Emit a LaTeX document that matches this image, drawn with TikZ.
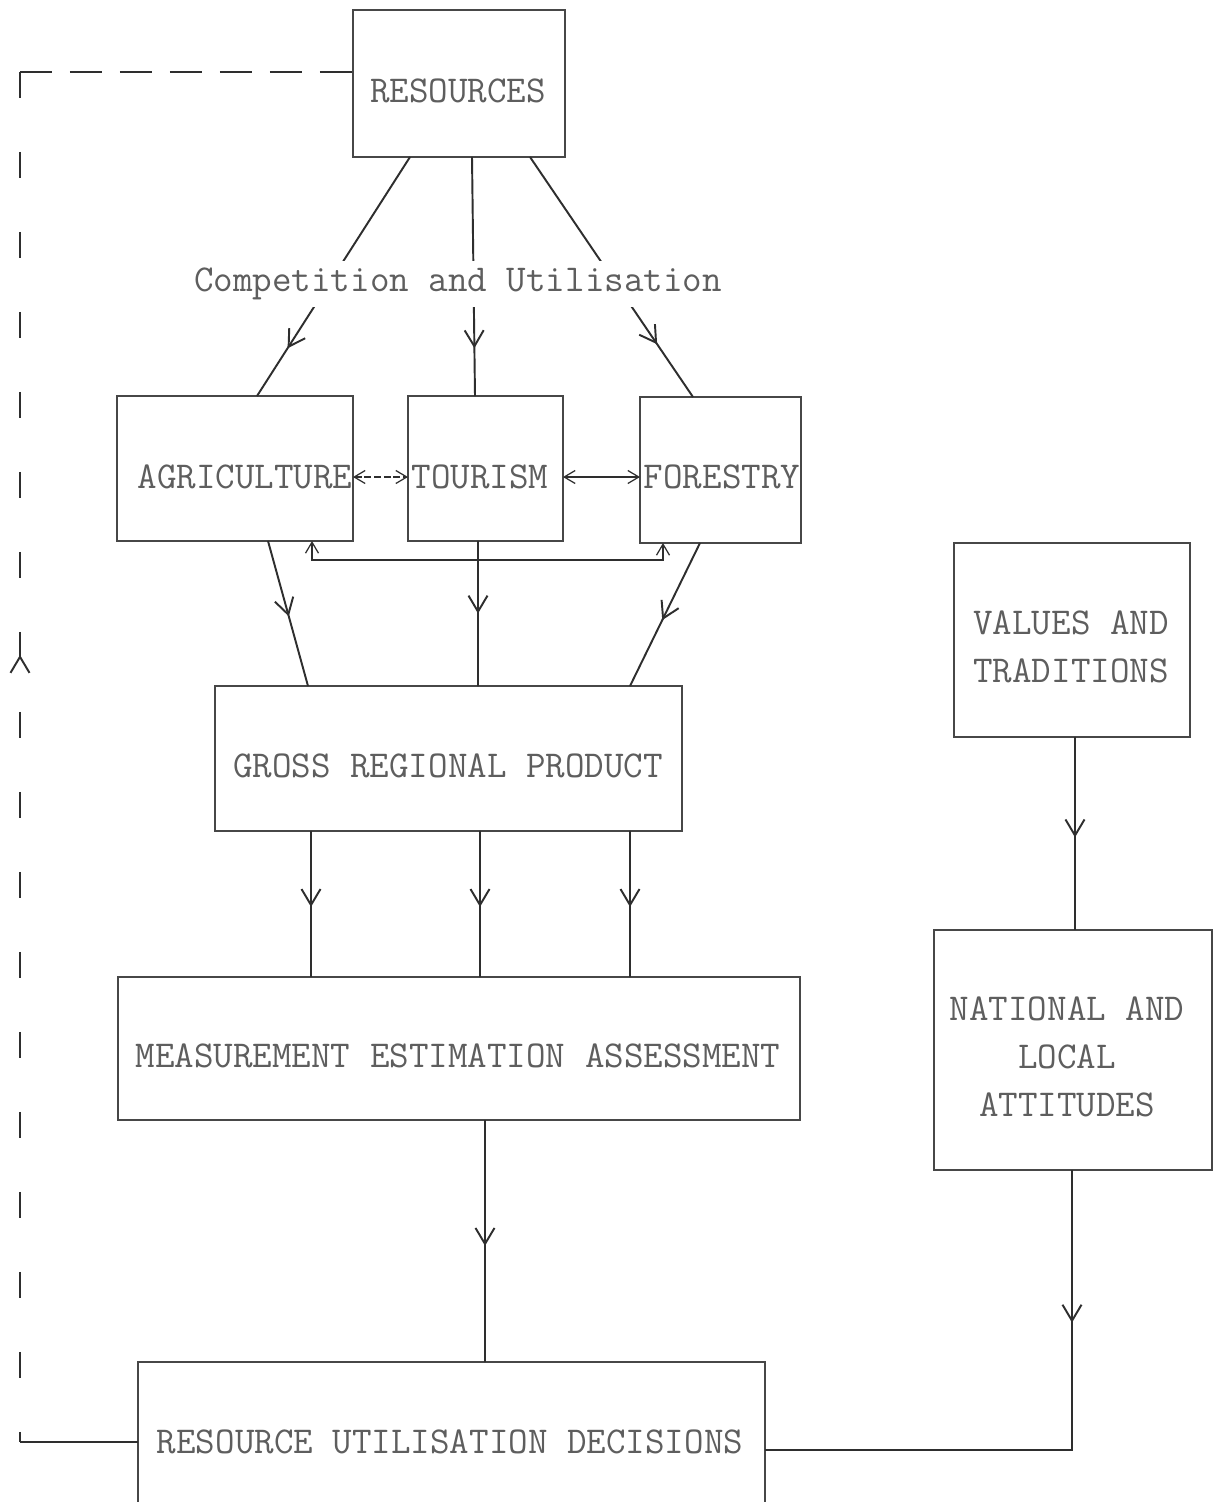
\documentclass[tikz,border=0pt]{standalone}
\usepackage{fontspec}
\usetikzlibrary{arrows.meta,decorations.markings,calc}
\definecolor{ink}{HTML}{2E2E2E}
\definecolor{boxink}{HTML}{474747}
\definecolor{txt}{HTML}{5E5E5E}
\tikzset{
  sb/.tip={Straight Barb[length=2.2mm,width=2.6mm]},
  box/.style 2 args={draw=boxink,line width=1pt,inner sep=0pt,outer sep=0pt,minimum width=#1,minimum height=#2},
  lbl/.style={text=txt,font=\ttfamily\fontsize{21.6}{27.3}\selectfont,inner sep=0pt,align=center},
  conn/.style={draw=ink,line width=1.1pt},
  midarrow/.style={postaction={decorate,decoration={markings,mark=at position #1 with {\arrow[line width=1.1pt]{Straight Barb[length=3.2mm,width=3.8mm]}}}}},
  midarrowrev/.style={postaction={decorate,decoration={markings,mark=at position #1 with {\arrowreversed[line width=1.1pt]{Straight Barb[length=3.2mm,width=3.8mm]}}}}},
}
\begin{document}
\begin{tikzpicture}[x=0.02cm,y=-0.02cm]
\fill[white] (0,0) rectangle (1220,1502);
\useasboundingbox (0,0) rectangle (1220,1502);

% boxes
\node[box={4.24cm}{2.94cm}] (res) at (459,83.5) {};
\node[box={4.72cm}{2.90cm}] (agr) at (235,468.5) {};
\node[box={3.10cm}{2.90cm}] (tou) at (485.5,468.5) {};
\node[box={3.22cm}{2.92cm}] (for) at (720.5,470) {};
\node[box={9.34cm}{2.90cm}] (grp) at (448.5,758.5) {};
\node[box={13.64cm}{2.86cm}] (mea) at (459,1048.5) {};
\node[box={12.54cm}{2.96cm}] (rud) at (451.5,1436) {};
\node[box={4.72cm}{3.88cm}] (val) at (1072,640) {};
\node[box={5.56cm}{4.80cm}] (nat) at (1073,1050) {};

% texts
\node[lbl] (resT) at (458,91) {RESOURCES};
\node[lbl] (agrT) at (245,477) {AGRICULTURE};
\node[lbl] (touT) at (480,477) {TOURISM};
\node[lbl] (forT) at (722,477) {FORESTRY};
\node[lbl] (grpT) at (448,766) {GROSS REGIONAL PRODUCT};
\node[lbl] (meaT) at (458,1056) {MEASUREMENT ESTIMATION ASSESSMENT};
\node[lbl] (rudT) at (450,1442) {RESOURCE UTILISATION DECISIONS};
\node[lbl] (valT) at (1071,647) {VALUES AND\\TRADITIONS};
\node[lbl] (natT) at (1067,1057) {NATIONAL AND\\LOCAL\\ATTITUDES};

% resources to sectors
\draw[conn,midarrow=0.8] ($(res.south)+(-49,0)$) -- ($(agr.north)+(22,0)$);
\draw[conn,midarrow=0.8] ($(res.south)+(13,0)$) -- ($(tou.north)+(-10.5,0)$);
\draw[conn,midarrow=0.78] ($(res.south)+(71,0)$) -- ($(for.north)+(-27.5,0)$);
\node[lbl,fill=white,inner xsep=3pt,minimum height=0.92cm] (comp) at (458,284) {Competition and Utilisation};

% interactions between sectors
\draw[draw=ink,line width=0.7pt,dash pattern=on 4pt off 1.5pt,sb-sb] (agr.east |- agrT) -- (tou.west |- agrT);
\draw[draw=ink,line width=0.7pt,sb-sb] (tou.east |- agrT) -- (for.west |- agrT);
\coordinate (bl) at (312,560);
\coordinate (br) at (663,560);
\draw[draw=ink,line width=0.7pt,sb-sb] (agr.south -| bl) -- (bl) -- (br) -- (for.south -| br);

% sectors to GRP
\draw[conn,midarrow=0.52] ($(agr.south)+(33,0)$) -- ($(grp.north)+(-140.5,0)$);
\draw[conn,midarrow=0.5] ($(tou.south)+(-7.5,0)$) -- ($(grp.north)+(29.5,0)$);
\draw[conn,midarrow=0.54] ($(for.south)+(-20.5,0)$) -- ($(grp.north)+(181.5,0)$);

% GRP to measurement
\draw[conn,midarrow=0.52] ($(grp.south)+(-137.5,0)$) -- ($(mea.north)+(-148,0)$);
\draw[conn,midarrow=0.52] ($(grp.south)+(31.5,0)$) -- ($(mea.north)+(21,0)$);
\draw[conn,midarrow=0.52] ($(grp.south)+(181.5,0)$) -- ($(mea.north)+(171,0)$);

% measurement to decisions
\draw[conn,midarrow=0.52] ($(mea.south)+(26,0)$) -- ($(rud.north)+(33.5,0)$);

% values to attitudes to decisions
\draw[conn,midarrow=0.52] ($(val.south)+(3,0)$) -- ($(nat.north)+(2,0)$);
\coordinate (nc) at (1072,1450);
\draw[conn,midarrow=0.26] ($(nat.south)+(-1,0)$) -- (nc) -- (rud.east |- nc);

% feedback loop
\coordinate (fbB) at (20,1442);
\coordinate (fbT) at (20,72);
\draw[conn] ($(rud.west)+(0,6)$) -- (fbB);
\draw[conn,dash pattern=on 0.52cm off 1.08cm,midarrowrev=0.4255] (fbT) -- (fbB);
\draw[conn,dash pattern=on 0.64cm off 0.36cm] (fbT) -- (res.west |- fbT);
\end{tikzpicture}
\end{document}
